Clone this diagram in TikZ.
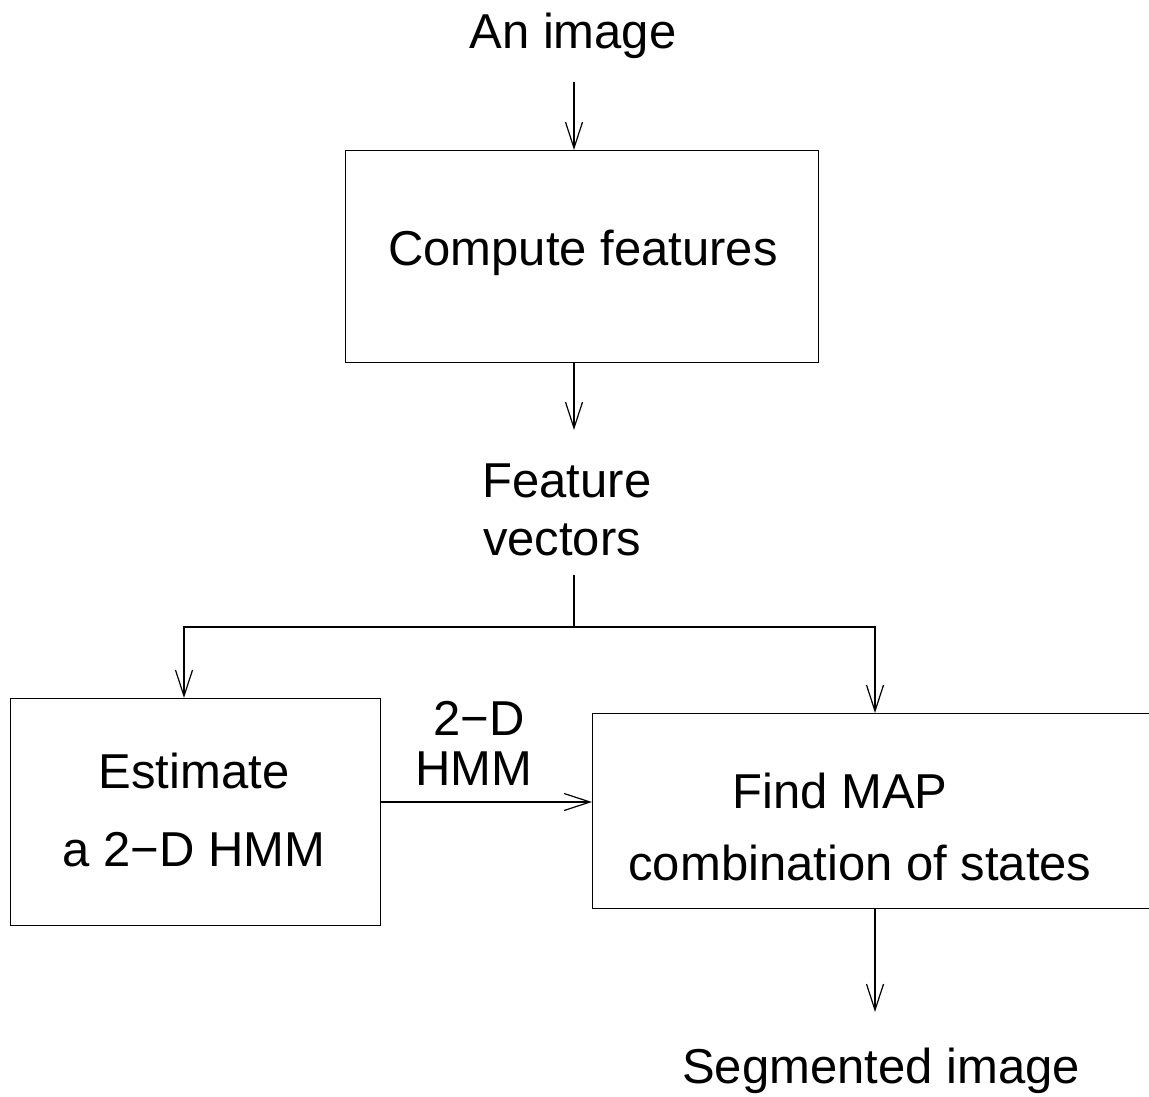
\documentclass[tikz,border=0pt]{standalone}
\usepackage{fontspec}
\setmainfont{Liberation Sans}
\usetikzlibrary{arrows.meta}
\begin{document}
\begin{tikzpicture}[x=1pt,y=-1pt,
  line width=1.3pt,
  arr/.style={-{Straight Barb[length=26pt,width=17pt,line width=1.2pt]}},
  box/.style={draw,rectangle,inner sep=0pt,anchor=north west},
  txt/.style={anchor=base,inner sep=0pt,font=\fontsize{49}{56}\selectfont}]
\useasboundingbox (0,0) rectangle (1149,1097);
\clip (0,0) rectangle (1149,1097);
% process boxes
\node[box,minimum width=473pt,minimum height=212pt] (feat) at (345,150) {};
\node[box,minimum width=370pt,minimum height=227pt] (est) at (10,698) {};
\node[box,minimum width=590pt,minimum height=195pt] (map) at (592,713) {};
% texts
\node[txt] (img) at (573,49) {An image};
\node[txt] (cf) at (583,265) {Compute features};
\node[txt] (fv1) at (567,497) {Feature};
\node[txt] (fv2) at (562,555) {vectors};
\node[txt] (hm1) at (479,735) {2−D};
\node[txt] (hm2) at (474,785) {HMM};
\node[txt] (es1) at (194,788) {Estimate};
\node[txt] (es2) at (194,866) {a 2−D HMM};
\node[txt] (fm1) at (840,808) {Find MAP};
\node[txt] (fm2) at (860,880) {combination of states};
\node[txt] (seg) at (881,1083) {Segmented image};
% connectors
\coordinate (a0) at (574,82);
\coordinate (a1) at (574,430);
\coordinate (sp) at (574,575);
\coordinate (jn) at (574,627);
\coordinate (lt) at (184,698);
\coordinate (rt) at (875,713);
\coordinate (hm) at (380,802);
\coordinate (out) at (875,1012);
\draw[arr] (a0) -- (feat.north -| a0);
\draw[arr] (feat.south -| a0) -- (a1);
\draw (sp) -- (jn);
\draw[arr] (jn) -| (lt);
\draw[arr] (jn) -| (rt);
\draw[arr] (hm) -- (hm -| map.west);
\draw[arr] (map.south -| rt) -- (out);
\end{tikzpicture}
\end{document}
